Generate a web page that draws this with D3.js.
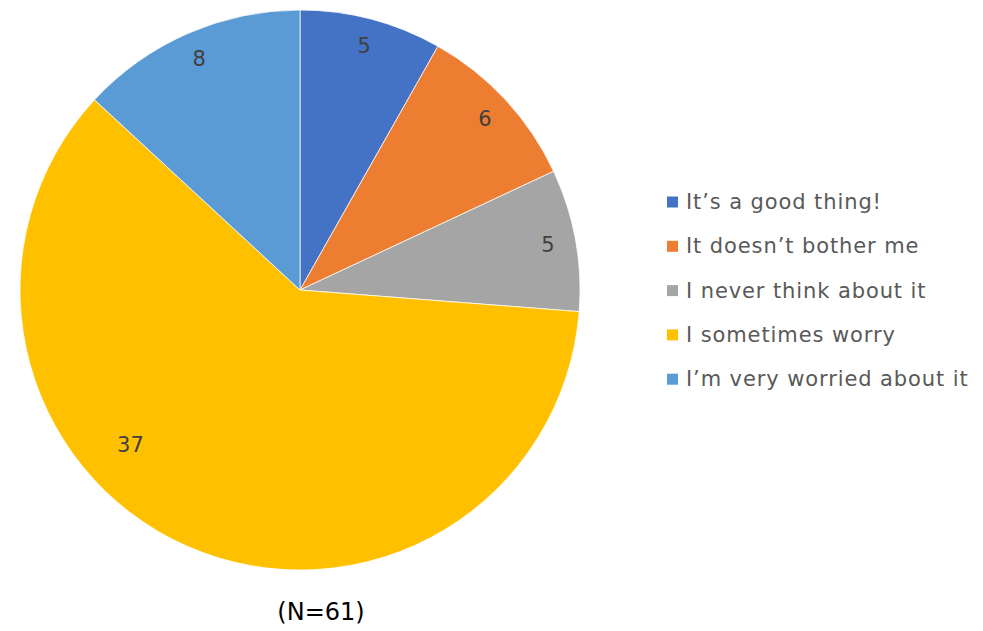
<!DOCTYPE html>
<html>
<head>
<meta charset="utf-8">
<script src="https://cdn.jsdelivr.net/npm/d3@7"></script>
<style>
  html, body { margin: 0; padding: 0; background: #fff; }
  svg text { font-family: "DejaVu Sans", "Noto Sans", sans-serif; }
</style>
</head>
<body>
<svg id="chart" width="983" height="631"></svg>
<script>
// Survey responses
const categories = [
  "It\u2019s a good thing!",
  "It doesn\u2019t bother me",
  "I never think about it",
  "I sometimes worry",
  "I\u2019m very worried about it"
];
const counts = [5, 6, 5, 37, 8];
const colors = ["#4472C4", "#ED7D31", "#A5A5A5", "#FFC000", "#5B9BD5"];
const footnote = "(N=61)";

const svg = d3.select("#chart");
const cx = 300, cy = 290, radius = 280;

const color = d3.scaleOrdinal().domain(categories).range(colors);

const pie = d3.pie().sort(null).value(d => d.value);
const arcs = pie(categories.map((c, i) => ({ name: c, value: counts[i] })));

const arc = d3.arc().innerRadius(0).outerRadius(radius);

const g = svg.append("g").attr("transform", `translate(${cx},${cy})`);

g.selectAll("path.slice")
  .data(arcs)
  .enter().append("path")
  .attr("class", "slice")
  .attr("d", arc)
  .attr("fill", d => color(d.data.name))
  .attr("stroke", "#fff")
  .attr("stroke-width", 0.75);

// Value labels: near the rim for small slices, pulled inward and
// rotated toward the wide part of a slice that covers over half the pie
function labelPos(d) {
  const span = d.endAngle - d.startAngle;
  let a, r;
  if (span > Math.PI) {
    a = d.startAngle + span * 0.61;
    r = radius * 0.82;
  } else {
    a = (d.startAngle + d.endAngle) / 2;
    r = radius * 0.9;
  }
  return [Math.sin(a) * r, -Math.cos(a) * r];
}

g.selectAll("text.val")
  .data(arcs)
  .enter().append("text")
  .attr("class", "val")
  .attr("x", d => labelPos(d)[0])
  .attr("y", d => labelPos(d)[1])
  .attr("text-anchor", "middle")
  .attr("dominant-baseline", "central")
  .attr("font-size", 21)
  .attr("fill", "#404040")
  .text(d => d.data.value);

// Legend
const legend = svg.append("g").attr("transform", "translate(667,202)");
const rowStep = 44.3;
const item = legend.selectAll("g.item")
  .data(categories)
  .enter().append("g")
  .attr("class", "item")
  .attr("transform", (d, i) => `translate(0,${i * rowStep})`);

item.append("rect")
  .attr("x", 0).attr("y", -5.5)
  .attr("width", 11).attr("height", 11)
  .attr("fill", d => color(d));

item.append("text")
  .attr("x", 19)
  .attr("y", 0)
  .attr("dominant-baseline", "central")
  .attr("font-size", 21)
  .attr("letter-spacing", 0.9)
  .attr("fill", "#595959")
  .text(d => d);

svg.append("text")
  .attr("x", 321)
  .attr("y", 612)
  .attr("text-anchor", "middle")
  .attr("dominant-baseline", "central")
  .attr("font-size", 24)
  .attr("fill", "#000")
  .text(footnote);
</script>
</body>
</html>
